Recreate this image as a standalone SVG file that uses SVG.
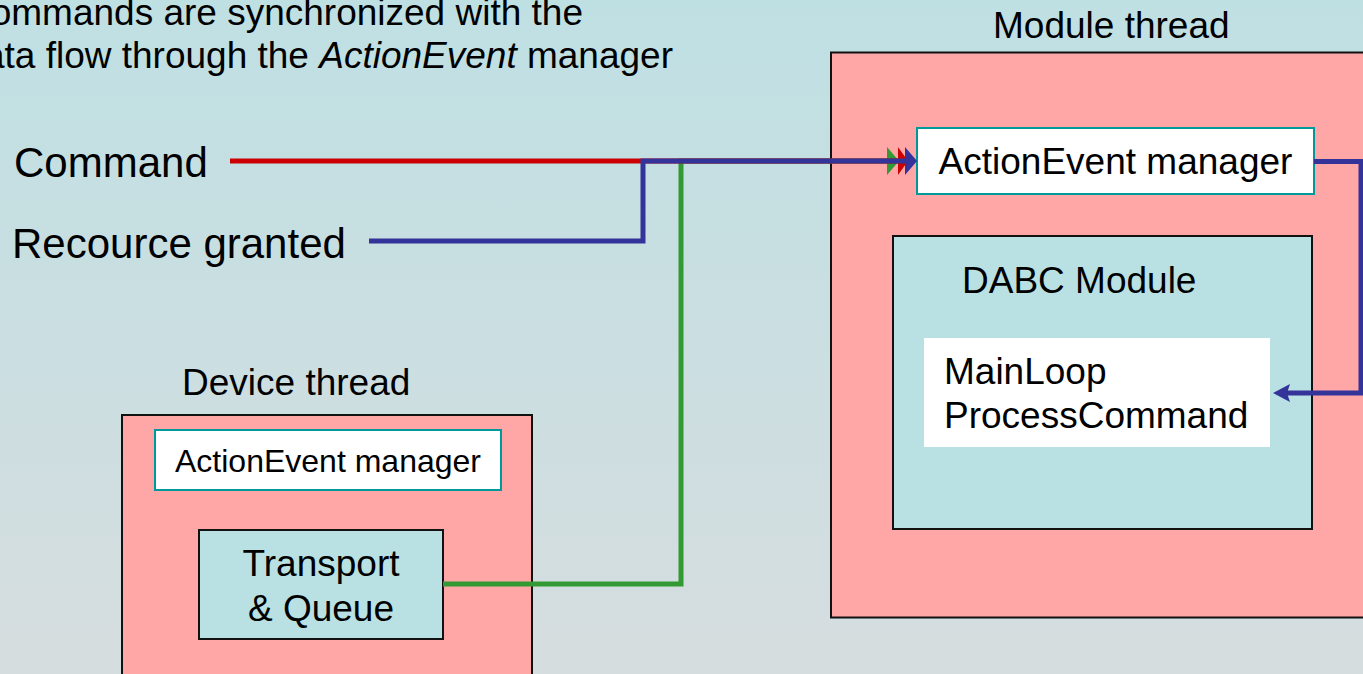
<svg xmlns="http://www.w3.org/2000/svg" width="1363" height="674" viewBox="0 0 1363 674">
  <defs>
    <linearGradient id="bg" x1="0" y1="0" x2="0" y2="1">
      <stop offset="0" stop-color="#bfe0e3"/>
      <stop offset="1" stop-color="#d6dddf"/>
    </linearGradient>
    <!-- tall narrow heads where the three flows enter the manager -->
    <marker id="headGreen" markerUnits="userSpaceOnUse" markerWidth="13" markerHeight="28" viewBox="0 0 13 28" refX="0" refY="14" orient="auto">
      <path d="M0,0 L12,14 L0,28 z" fill="#339933"/>
    </marker>
    <marker id="headRed" markerUnits="userSpaceOnUse" markerWidth="13" markerHeight="28" viewBox="0 0 13 28" refX="0" refY="14" orient="auto">
      <path d="M0,0 L10,14 L0,28 z" fill="#cc0000"/>
    </marker>
    <marker id="headBlue" markerUnits="userSpaceOnUse" markerWidth="13" markerHeight="28" viewBox="0 0 13 28" refX="0" refY="14" orient="auto">
      <path d="M0,0 L12,14 L0,28 z" fill="#333399"/>
    </marker>
    <!-- small notched head for the dispatch into the module -->
    <marker id="headSmall" markerUnits="userSpaceOnUse" markerWidth="18" markerHeight="18" viewBox="0 0 18 18" refX="3" refY="9" orient="auto">
      <path d="M0,0 L17,9 L0,18 L3,9 z" fill="#333399"/>
    </marker>
  </defs>
  <style>
    text { font-family: "Liberation Sans", Arial, sans-serif; fill: #000; }
    .big { font-size: 42px; }
    .lbl { font-size: 37px; }
    .small { font-size: 32px; }
    .thread { fill: #ffa7a7; stroke: #111; stroke-width: 2; }
    .inner { fill: #b9e0e3; stroke: #111; stroke-width: 2; }
    .mgr { fill: #ffffff; stroke: #009999; stroke-width: 2; }
    .plain { fill: #ffffff; }
    .wire { fill: none; stroke-width: 5; stroke-linejoin: miter; }
  </style>

  <rect x="0" y="0" width="1363" height="674" fill="url(#bg)"/>

  <!-- heading -->
  <g id="heading">
    <text class="lbl" x="583" y="25" text-anchor="end">ommands are synchronized with the</text>
    <text class="lbl" x="673" y="68" text-anchor="end">ata flow through the <tspan font-style="italic">ActionEvent</tspan> manager</text>
  </g>

  <!-- signal sources -->
  <g id="command-label">
    <text class="big" x="14" y="177">Command</text>
  </g>
  <g id="resource-label">
    <text class="big" x="12" y="258">Recource granted</text>
  </g>

  <!-- device thread -->
  <g id="device-thread">
    <text class="lbl" x="182" y="395">Device thread</text>
    <rect class="thread" x="122" y="415" width="410" height="280"/>
  </g>
  <g id="device-manager">
    <rect class="mgr" x="155" y="430" width="346" height="60"/>
    <text class="small" x="328" y="472" text-anchor="middle">ActionEvent manager</text>
  </g>
  <g id="transport">
    <rect class="inner" x="199" y="530" width="244" height="109"/>
    <text class="lbl" x="321" y="576" text-anchor="middle">Transport</text>
    <text class="lbl" x="321" y="621" text-anchor="middle">&amp; Queue</text>
  </g>

  <!-- module thread -->
  <g id="module-thread">
    <text class="lbl" x="993" y="38">Module thread</text>
    <rect class="thread" x="831" y="52.5" width="600" height="565"/>
  </g>
  <g id="module-manager">
    <rect class="mgr" x="917" y="128" width="397" height="66"/>
    <text class="lbl" x="1115.5" y="174" text-anchor="middle">ActionEvent manager</text>
  </g>
  <g id="dabc-module">
    <rect class="inner" x="893" y="236" width="419" height="293"/>
    <text class="lbl" x="962" y="293">DABC Module</text>
  </g>
  <g id="mainloop">
    <rect class="plain" x="924" y="338" width="346" height="109"/>
    <text class="lbl" x="944" y="384">MainLoop</text>
    <text class="lbl" x="944" y="428">ProcessCommand</text>
  </g>

  <!-- connectors -->
  <g id="connectors">
    <path class="wire" stroke="#339933" d="M443,584 H681 V161 H887" marker-end="url(#headGreen)"/>
    <path class="wire" stroke="#cc0000" d="M230,161 H898" marker-end="url(#headRed)"/>
    <path class="wire" stroke="#333399" d="M369,241 H643 V161 H905" marker-end="url(#headBlue)"/>
    <path class="wire" stroke="#333399" d="M1314,161.5 H1361 V393 H1287" marker-end="url(#headSmall)"/>
  </g>
</svg>
